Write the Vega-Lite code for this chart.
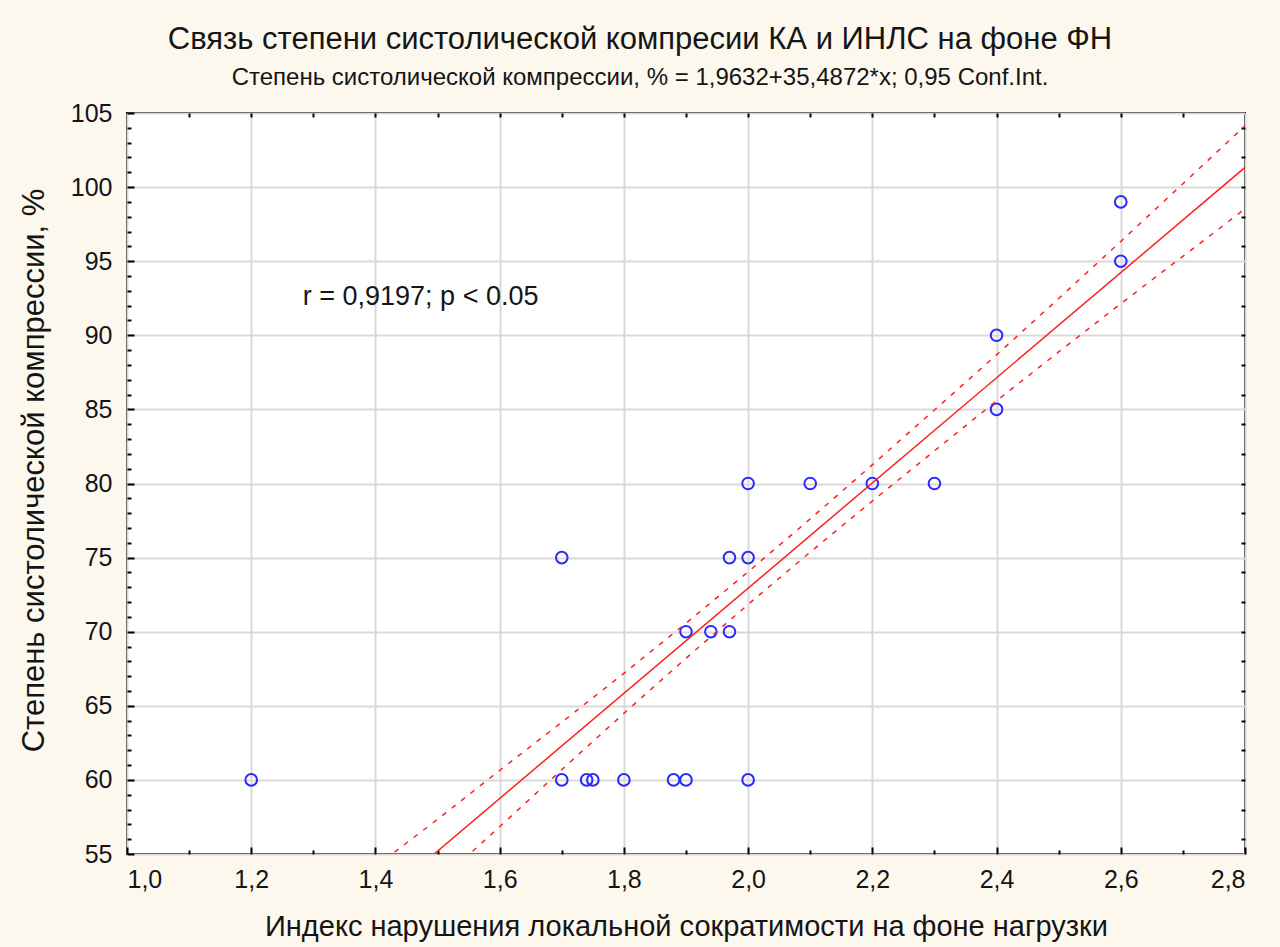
{
  "$schema": "https://vega.github.io/schema/vega-lite/v6.json",
  "width": 1118,
  "height": 741,
  "autosize": "none",
  "padding": {"left": 127, "top": 113, "right": 35, "bottom": 93},
  "background": "#fdf8ee",
  "config": {
    "view": {"fill": "white", "stroke": "black", "strokeWidth": 2},
    "axis": {
      "labelFont": "Liberation Sans",
      "titleFont": "Liberation Sans",
      "labelColor": "#151515",
      "titleColor": "#151515",
      "titleFontWeight": "normal",
      "domain": false,
      "tickColor": "black",
      "tickWidth": 2
    }
  },
  "title": {
    "text": "Связь степени систолической компресии КА и ИНЛС на фоне ФН",
    "subtitle": "Степень систолической компрессии, % = 1,9632+35,4872*x; 0,95 Conf.Int.",
    "font": "Liberation Sans",
    "fontSize": 31,
    "fontWeight": "normal",
    "color": "#151515",
    "subtitleFont": "Liberation Sans",
    "subtitleFontSize": 24,
    "subtitleColor": "#151515",
    "subtitlePadding": 10,
    "anchor": "middle",
    "dx": -46,
    "offset": 10
  },
  "datasets": {
    "points": [
      {"x": 1.2, "y": 60},
      {"x": 1.7, "y": 75},
      {"x": 1.7, "y": 60},
      {"x": 1.74, "y": 60},
      {"x": 1.75, "y": 60},
      {"x": 1.8, "y": 60},
      {"x": 1.88, "y": 60},
      {"x": 1.9, "y": 60},
      {"x": 2.0, "y": 60},
      {"x": 1.9, "y": 70},
      {"x": 1.94, "y": 70},
      {"x": 1.97, "y": 70},
      {"x": 1.97, "y": 75},
      {"x": 2.0, "y": 75},
      {"x": 2.0, "y": 80},
      {"x": 2.1, "y": 80},
      {"x": 2.2, "y": 80},
      {"x": 2.3, "y": 80},
      {"x": 2.4, "y": 90},
      {"x": 2.4, "y": 85},
      {"x": 2.6, "y": 99},
      {"x": 2.6, "y": 95}
    ],
    "fit": [
      {"x": 1.4945, "y": 55.0},
      {"x": 2.8, "y": 101.327}
    ],
    "band": [
      {"x": 1.4, "hi": 54.15, "lo": 49.15},
      {"x": 1.5, "hi": 57.34, "lo": 53.04},
      {"x": 1.6, "hi": 60.64, "lo": 56.84},
      {"x": 1.7, "hi": 63.89, "lo": 60.69},
      {"x": 1.8, "hi": 67.19, "lo": 64.49},
      {"x": 1.9, "hi": 70.57, "lo": 68.21},
      {"x": 2.0, "hi": 74.04, "lo": 71.84},
      {"x": 2.1, "hi": 77.61, "lo": 75.37},
      {"x": 2.2, "hi": 81.26, "lo": 78.82},
      {"x": 2.3, "hi": 84.96, "lo": 82.2},
      {"x": 2.4, "hi": 88.68, "lo": 85.58},
      {"x": 2.5, "hi": 92.48, "lo": 88.88},
      {"x": 2.6, "hi": 96.33, "lo": 92.13},
      {"x": 2.7, "hi": 100.23, "lo": 95.33},
      {"x": 2.8, "hi": 104.13, "lo": 98.53}
    ],
    "note": [
      {"x": 1.283, "y": 92.6, "label": "r = 0,9197; p < 0.05"}
    ]
  },
  "layer": [
    {
      "data": {"name": "points"},
      "mark": {"type": "point", "shape": "circle", "filled": false, "color": "#2a2aff", "strokeWidth": 2, "size": 135, "opacity": 1},
      "encoding": {
        "x": {
          "field": "x", "type": "quantitative",
          "scale": {"domain": [1.0, 2.8], "nice": false, "zero": false},
          "axis": {
            "orient": "bottom",
            "values": [1.0, 1.2, 1.4, 1.6, 1.8, 2.0, 2.2, 2.4, 2.6, 2.8],
            "labelExpr": "replace(format(datum.value, '.1f'), '.', ',')",
            "labelFontSize": 25,
            "labelPadding": 20,
            "tickSize": -7,
            "grid": true,
            "gridColor": "#d9d9d9",
            "gridWidth": 2,
            "title": "Индекс нарушения локальной сократимости на фоне нагрузки",
            "titleFontSize": 29,
            "titlePadding": 20
          }
        },
        "y": {
          "field": "y", "type": "quantitative",
          "scale": {"domain": [55, 105], "nice": false, "zero": false},
          "axis": {
            "orient": "left",
            "values": [55, 60, 65, 70, 75, 80, 85, 90, 95, 100, 105],
            "labelFontSize": 25,
            "labelPadding": 22,
            "tickSize": -7,
            "grid": true,
            "gridColor": "#d9d9d9",
            "gridWidth": 2,
            "title": "Степень систолической компрессии, %",
            "titleFontSize": 31,
            "titlePadding": 20,
            "titleY": 357
          }
        }
      }
    },
    {
      "data": {"name": "fit"},
      "mark": {"type": "line", "color": "#ff2020", "strokeWidth": 1.5, "clip": true},
      "encoding": {
        "x": {
          "field": "x", "type": "quantitative",
          "axis": {
            "orient": "bottom",
            "values": [1.1, 1.3, 1.5, 1.7, 1.9, 2.1, 2.3, 2.5, 2.7],
            "labels": false, "grid": false, "tickSize": -4, "title": null
          }
        },
        "y": {
          "field": "y", "type": "quantitative",
          "axis": {
            "orient": "left",
            "values": [56, 57, 58, 59, 61, 62, 63, 64, 66, 67, 68, 69, 71, 72, 73, 74, 76, 77, 78, 79, 81, 82, 83, 84, 86, 87, 88, 89, 91, 92, 93, 94, 96, 97, 98, 99, 101, 102, 103, 104],
            "labels": false, "grid": false, "tickSize": -4, "title": null
          }
        }
      }
    },
    {
      "data": {"name": "band"},
      "mark": {"type": "line", "color": "#ff2020", "strokeWidth": 1.5, "strokeDash": [5, 7], "clip": true},
      "encoding": {
        "x": {
          "field": "x", "type": "quantitative",
          "axis": {
            "orient": "top",
            "values": [1.1, 1.2, 1.3, 1.4, 1.5, 1.6, 1.7, 1.8, 1.9, 2.0, 2.1, 2.2, 2.3, 2.4, 2.5, 2.6, 2.7],
            "labels": false, "grid": false, "tickSize": -4, "title": null
          }
        },
        "y": {
          "field": "hi", "type": "quantitative",
          "axis": {
            "orient": "right",
            "values": [56, 58, 60, 62, 64, 66, 68, 70, 72, 74, 76, 78, 80, 82, 84, 86, 88, 90, 92, 94, 96, 98, 100, 102, 104],
            "labels": false, "grid": false, "tickSize": -4, "title": null
          }
        }
      }
    },
    {
      "data": {"name": "band"},
      "mark": {"type": "line", "color": "#ff2020", "strokeWidth": 1.5, "strokeDash": [5, 7], "clip": true},
      "encoding": {
        "x": {"field": "x", "type": "quantitative", "axis": null},
        "y": {"field": "lo", "type": "quantitative", "axis": null}
      }
    },
    {
      "data": {"name": "note"},
      "mark": {"type": "text", "align": "left", "baseline": "middle", "font": "Liberation Sans", "fontSize": 27, "color": "#151515"},
      "encoding": {
        "x": {"field": "x", "type": "quantitative", "axis": null},
        "y": {"field": "y", "type": "quantitative", "axis": null},
        "text": {"field": "label"}
      }
    }
  ],
  "resolve": {"axis": {"x": "independent", "y": "independent"}}
}
